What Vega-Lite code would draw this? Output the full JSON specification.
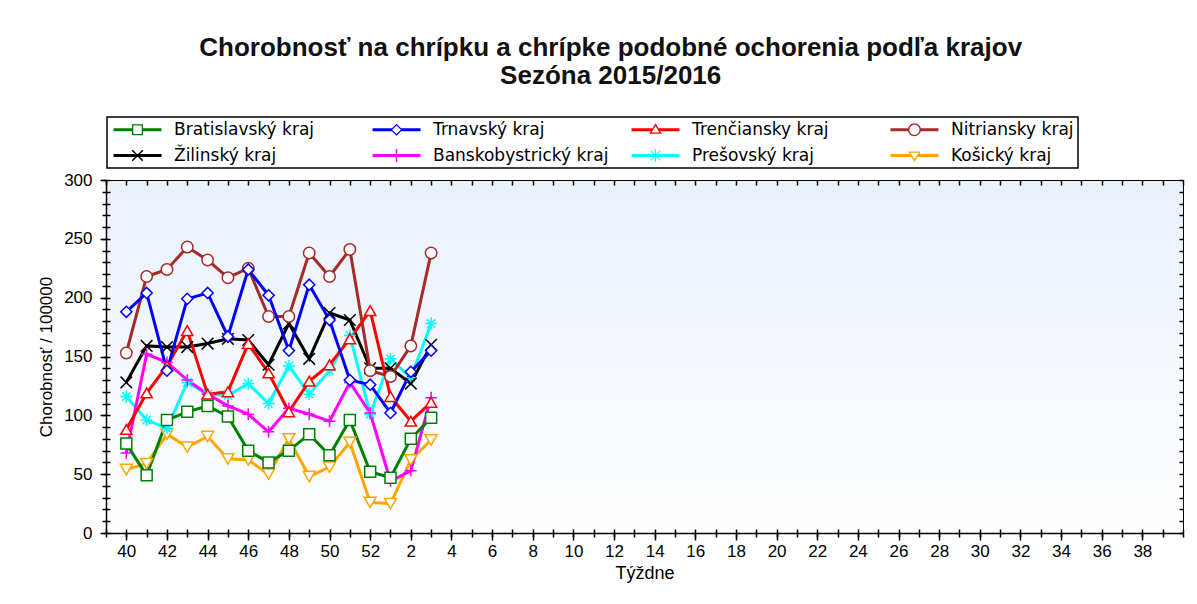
{
  "$schema": "https://vega.github.io/schema/vega-lite/v6.json",
  "width": 1077,
  "height": 353,
  "autosize": {"type": "none"},
  "padding": {"left": 106, "top": 180, "right": 14, "bottom": 71},
  "background": "white",
  "title": {
    "text": ["Chorobnosť na chrípku a chrípke podobné ochorenia podľa krajov", "Sezóna 2015/2016"],
    "font": "Liberation Sans",
    "fontSize": 26,
    "fontWeight": "bold",
    "lineHeight": 28,
    "anchor": "middle",
    "frame": "bounds",
    "offset": 27,
    "color": "#111111"
  },
  "config": {
    "view": {
      "stroke": "black",
      "strokeWidth": 1,
      "fill": {"gradient": "linear", "x1": 0, "y1": 0, "x2": 0, "y2": 1,
        "stops": [{"offset": 0, "color": "#e9f1fb"}, {"offset": 1, "color": "#ffffff"}]}
    },
    "axis": {"grid": false, "tickColor": "black", "domainColor": "black", "labelColor": "black", "titleColor": "black"},
    "legend": {
      "orient": "none",
      "legendX": 1,
      "legendY": -63,
      "direction": "horizontal",
      "columns": 4,
      "gridAlign": "all",
      "labelFont": "DejaVu Sans",
      "labelFontSize": 17,
      "labelColor": "black",
      "labelLimit": 400,
      "labelOffset": 28,
      "symbolSize": 144,
      "symbolStrokeWidth": 0,
      "symbolOpacity": 1,
      "symbolOffset": 18,
      "columnPadding": 20,
      "rowPadding": 8,
      "padding": 4,
      "strokeColor": "black",
      "strokeWidth": 1.5,
      "fillColor": "white"
    }
  },
  "data": {"values": [
    {"k": "Košický kraj", "t": 0, "v": 54}, {"k": "Košický kraj", "t": 1, "v": 59}, {"k": "Košický kraj", "t": 2, "v": 84}, {"k": "Košický kraj", "t": 3, "v": 73},
    {"k": "Košický kraj", "t": 4, "v": 82}, {"k": "Košický kraj", "t": 5, "v": 63}, {"k": "Košický kraj", "t": 6, "v": 62}, {"k": "Košický kraj", "t": 7, "v": 50},
    {"k": "Košický kraj", "t": 8, "v": 80}, {"k": "Košický kraj", "t": 9, "v": 48}, {"k": "Košický kraj", "t": 10, "v": 56}, {"k": "Košický kraj", "t": 11, "v": 77},
    {"k": "Košický kraj", "t": 12, "v": 26}, {"k": "Košický kraj", "t": 13, "v": 25}, {"k": "Košický kraj", "t": 14, "v": 62}, {"k": "Košický kraj", "t": 15, "v": 79},

    {"k": "Prešovský kraj", "t": 0, "v": 116}, {"k": "Prešovský kraj", "t": 1, "v": 96}, {"k": "Prešovský kraj", "t": 2, "v": 89}, {"k": "Prešovský kraj", "t": 3, "v": 128},
    {"k": "Prešovský kraj", "t": 4, "v": 118}, {"k": "Prešovský kraj", "t": 5, "v": 117}, {"k": "Prešovský kraj", "t": 6, "v": 127}, {"k": "Prešovský kraj", "t": 7, "v": 110},
    {"k": "Prešovský kraj", "t": 8, "v": 142}, {"k": "Prešovský kraj", "t": 9, "v": 118}, {"k": "Prešovský kraj", "t": 10, "v": 138}, {"k": "Prešovský kraj", "t": 11, "v": 168},
    {"k": "Prešovský kraj", "t": 12, "v": 101}, {"k": "Prešovský kraj", "t": 13, "v": 148}, {"k": "Prešovský kraj", "t": 14, "v": 132}, {"k": "Prešovský kraj", "t": 15, "v": 178},

    {"k": "Banskobystrický kraj", "t": 0, "v": 68}, {"k": "Banskobystrický kraj", "t": 1, "v": 152}, {"k": "Banskobystrický kraj", "t": 2, "v": 145}, {"k": "Banskobystrický kraj", "t": 3, "v": 130},
    {"k": "Banskobystrický kraj", "t": 4, "v": 118}, {"k": "Banskobystrický kraj", "t": 5, "v": 108}, {"k": "Banskobystrický kraj", "t": 6, "v": 101}, {"k": "Banskobystrický kraj", "t": 7, "v": 86},
    {"k": "Banskobystrický kraj", "t": 8, "v": 106}, {"k": "Banskobystrický kraj", "t": 9, "v": 101}, {"k": "Banskobystrický kraj", "t": 10, "v": 95}, {"k": "Banskobystrický kraj", "t": 11, "v": 128},
    {"k": "Banskobystrický kraj", "t": 12, "v": 102}, {"k": "Banskobystrický kraj", "t": 13, "v": 44}, {"k": "Banskobystrický kraj", "t": 14, "v": 53}, {"k": "Banskobystrický kraj", "t": 15, "v": 115},

    {"k": "Žilinský kraj", "t": 0, "v": 128}, {"k": "Žilinský kraj", "t": 1, "v": 159}, {"k": "Žilinský kraj", "t": 2, "v": 158}, {"k": "Žilinský kraj", "t": 3, "v": 158},
    {"k": "Žilinský kraj", "t": 4, "v": 161}, {"k": "Žilinský kraj", "t": 5, "v": 165}, {"k": "Žilinský kraj", "t": 6, "v": 164}, {"k": "Žilinský kraj", "t": 7, "v": 143},
    {"k": "Žilinský kraj", "t": 8, "v": 178}, {"k": "Žilinský kraj", "t": 9, "v": 148}, {"k": "Žilinský kraj", "t": 10, "v": 187}, {"k": "Žilinský kraj", "t": 11, "v": 181},
    {"k": "Žilinský kraj", "t": 12, "v": 140}, {"k": "Žilinský kraj", "t": 13, "v": 140}, {"k": "Žilinský kraj", "t": 14, "v": 127}, {"k": "Žilinský kraj", "t": 15, "v": 160},

    {"k": "Nitriansky kraj", "t": 0, "v": 153}, {"k": "Nitriansky kraj", "t": 1, "v": 218}, {"k": "Nitriansky kraj", "t": 2, "v": 224}, {"k": "Nitriansky kraj", "t": 3, "v": 243},
    {"k": "Nitriansky kraj", "t": 4, "v": 232}, {"k": "Nitriansky kraj", "t": 5, "v": 217}, {"k": "Nitriansky kraj", "t": 6, "v": 225}, {"k": "Nitriansky kraj", "t": 7, "v": 184},
    {"k": "Nitriansky kraj", "t": 8, "v": 184}, {"k": "Nitriansky kraj", "t": 9, "v": 238}, {"k": "Nitriansky kraj", "t": 10, "v": 218}, {"k": "Nitriansky kraj", "t": 11, "v": 241},
    {"k": "Nitriansky kraj", "t": 12, "v": 138}, {"k": "Nitriansky kraj", "t": 13, "v": 133}, {"k": "Nitriansky kraj", "t": 14, "v": 159}, {"k": "Nitriansky kraj", "t": 15, "v": 238},

    {"k": "Trenčiansky kraj", "t": 0, "v": 88}, {"k": "Trenčiansky kraj", "t": 1, "v": 119}, {"k": "Trenčiansky kraj", "t": 2, "v": 142}, {"k": "Trenčiansky kraj", "t": 3, "v": 172},
    {"k": "Trenčiansky kraj", "t": 4, "v": 118}, {"k": "Trenčiansky kraj", "t": 5, "v": 120}, {"k": "Trenčiansky kraj", "t": 6, "v": 161}, {"k": "Trenčiansky kraj", "t": 7, "v": 136},
    {"k": "Trenčiansky kraj", "t": 8, "v": 103}, {"k": "Trenčiansky kraj", "t": 9, "v": 129}, {"k": "Trenčiansky kraj", "t": 10, "v": 143}, {"k": "Trenčiansky kraj", "t": 11, "v": 165},
    {"k": "Trenčiansky kraj", "t": 12, "v": 189}, {"k": "Trenčiansky kraj", "t": 13, "v": 116}, {"k": "Trenčiansky kraj", "t": 14, "v": 95}, {"k": "Trenčiansky kraj", "t": 15, "v": 111},

    {"k": "Trnavský kraj", "t": 0, "v": 188}, {"k": "Trnavský kraj", "t": 1, "v": 204}, {"k": "Trnavský kraj", "t": 2, "v": 138}, {"k": "Trnavský kraj", "t": 3, "v": 199},
    {"k": "Trnavský kraj", "t": 4, "v": 204}, {"k": "Trnavský kraj", "t": 5, "v": 167}, {"k": "Trnavský kraj", "t": 6, "v": 224}, {"k": "Trnavský kraj", "t": 7, "v": 202},
    {"k": "Trnavský kraj", "t": 8, "v": 155}, {"k": "Trnavský kraj", "t": 9, "v": 211}, {"k": "Trnavský kraj", "t": 10, "v": 181}, {"k": "Trnavský kraj", "t": 11, "v": 130},
    {"k": "Trnavský kraj", "t": 12, "v": 126}, {"k": "Trnavský kraj", "t": 13, "v": 102}, {"k": "Trnavský kraj", "t": 14, "v": 137}, {"k": "Trnavský kraj", "t": 15, "v": 155},

    {"k": "Bratislavský kraj", "t": 0, "v": 76}, {"k": "Bratislavský kraj", "t": 1, "v": 49}, {"k": "Bratislavský kraj", "t": 2, "v": 96}, {"k": "Bratislavský kraj", "t": 3, "v": 103},
    {"k": "Bratislavský kraj", "t": 4, "v": 108}, {"k": "Bratislavský kraj", "t": 5, "v": 99}, {"k": "Bratislavský kraj", "t": 6, "v": 70}, {"k": "Bratislavský kraj", "t": 7, "v": 60},
    {"k": "Bratislavský kraj", "t": 8, "v": 70}, {"k": "Bratislavský kraj", "t": 9, "v": 84}, {"k": "Bratislavský kraj", "t": 10, "v": 66}, {"k": "Bratislavský kraj", "t": 11, "v": 96},
    {"k": "Bratislavský kraj", "t": 12, "v": 52}, {"k": "Bratislavský kraj", "t": 13, "v": 47}, {"k": "Bratislavský kraj", "t": 14, "v": 80}, {"k": "Bratislavský kraj", "t": 15, "v": 98}
  ]},
  "resolve": {
    "scale": {"shape": "independent"},
    "axis": {"x": "independent", "y": "independent"},
    "legend": {"shape": "independent", "fill": "independent"}
  },
  "layer": [
    {
      "mark": {"type": "line", "strokeWidth": 3},
      "encoding": {
        "x": {"field": "t", "type": "quantitative",
          "scale": {"domain": [-1, 52], "nice": false, "zero": false},
          "axis": {"orient": "bottom", "values": [0,2,4,6,8,10,12,14,16,18,20,22,24,26,28,30,32,34,36,38,40,42,44,46,48,50],
            "labelExpr": "datum.value <= 12 ? datum.value + 40 : datum.value - 12",
            "tickSize": 7, "tickWidth": 1.5, "domainWidth": 1.5,
            "labelFont": "Liberation Sans", "labelFontSize": 17, "labelPadding": 3, "labelFlush": false, "labelOverlap": false,
            "title": "Týždne", "titleFont": "Liberation Sans", "titleFontSize": 18, "titleFontWeight": "normal", "titlePadding": 5}},
        "y": {"field": "v", "type": "quantitative",
          "scale": {"domain": [0, 300], "nice": false, "zero": true},
          "axis": {"orient": "left", "values": [0,50,100,150,200,250,300],
            "tickSize": 6, "tickWidth": 1.5, "domainWidth": 1.5,
            "labelFont": "Liberation Sans", "labelFontSize": 17, "labelPadding": 8, "labelFlush": false,
            "title": "Chorobnosť / 100000", "titleFont": "Liberation Sans", "titleFontSize": 17, "titleFontWeight": "normal", "titlePadding": 8}},
        "stroke": {"field": "k", "type": "nominal",
          "scale": {"domain": ["Bratislavský kraj","Trnavský kraj","Trenčiansky kraj","Nitriansky kraj","Žilinský kraj","Banskobystrický kraj","Prešovský kraj","Košický kraj"],
            "range": ["#008000","#0000ff","#ff0000","#a52a2a","#000000","#ff00ff","#00ffff","#ffa500"]},
          "legend": null}
      }
    },
    {
      "mark": {"type": "point", "filled": false, "fill": "white", "strokeWidth": 1.5, "opacity": 1},
      "encoding": {
        "x": {"field": "t", "type": "quantitative",
          "axis": {"orient": "bottom", "values": [-1,0,1,2,3,4,5,6,7,8,9,10,11,12,13,14,15,16,17,18,19,20,21,22,23,24,25,26,27,28,29,30,31,32,33,34,35,36,37,38,39,40,41,42,43,44,45,46,47,48,49,50,51,52],
            "tickSize": 4, "tickWidth": 1.5, "labels": false, "domain": false, "title": null}},
        "y": {"field": "v", "type": "quantitative",
          "axis": {"orient": "left", "values": [0,10,20,30,40,50,60,70,80,90,100,110,120,130,140,150,160,170,180,190,200,210,220,230,240,250,260,270,280,290,300],
            "tickSize": 4, "tickWidth": 1.5, "labels": false, "domain": false, "title": null}},
        "stroke": {"field": "k", "type": "nominal", "legend": null},
        "shape": {"field": "k", "type": "nominal",
          "scale": {"domain": ["Bratislavský kraj","Trnavský kraj","Trenčiansky kraj","Nitriansky kraj","Žilinský kraj","Banskobystrický kraj","Prešovský kraj","Košický kraj"],
            "range": ["square","diamond","triangle-up","circle","M-1,-1L1,1M1,-1L-1,1","M-1,0H1M0,-1V1","M-1,0H1M0,-1V1M-0.7,-0.7L0.7,0.7M0.7,-0.7L-0.7,0.7","triangle-down"]},
          "legend": null},
        "size": {"field": "k", "type": "nominal",
          "scale": {"domain": ["Bratislavský kraj","Trnavský kraj","Trenčiansky kraj","Nitriansky kraj","Žilinský kraj","Banskobystrický kraj","Prešovský kraj","Košický kraj"],
            "range": [121, 144, 144, 169, 169, 196, 196, 144]},
          "legend": null}
      }
    },
    {
      "mark": {"type": "point", "filled": true, "opacity": 0},
      "encoding": {
        "x": {"field": "t", "type": "quantitative",
          "axis": {"orient": "top", "values": [-1,0,1,2,3,4,5,6,7,8,9,10,11,12,13,14,15,16,17,18,19,20,21,22,23,24,25,26,27,28,29,30,31,32,33,34,35,36,37,38,39,40,41,42,43,44,45,46,47,48,49,50,51,52],
            "tickSize": -5, "tickWidth": 1.5, "labels": false, "domain": false, "title": null}},
        "y": {"field": "v", "type": "quantitative",
          "axis": {"orient": "right", "values": [0,10,20,30,40,50,60,70,80,90,100,110,120,130,140,150,160,170,180,190,200,210,220,230,240,250,260,270,280,290,300],
            "tickSize": -4, "tickWidth": 1.5, "labels": false, "domain": false, "title": null}},
        "fill": {"field": "k", "type": "nominal",
          "scale": {"domain": ["Bratislavský kraj","Trnavský kraj","Trenčiansky kraj","Nitriansky kraj","Žilinský kraj","Banskobystrický kraj","Prešovský kraj","Košický kraj"],
            "range": ["#008000","#0000ff","#ff0000","#a52a2a","#000000","#ff00ff","#00ffff","#ffa500"]},
          "legend": {"title": null}},
        "shape": {"field": "k", "type": "nominal",
          "scale": {"domain": ["Bratislavský kraj","Trnavský kraj","Trenčiansky kraj","Nitriansky kraj","Žilinský kraj","Banskobystrický kraj","Prešovský kraj","Košický kraj"],
            "range": [
              "M-4,-0.25H-0.92V0.25H-4Z M0.92,-0.25H4V0.25H0.92Z M-0.92,-0.92H0.92V0.92H-0.92Z M-0.7,-0.7V0.7H0.7V-0.7Z",
              "M-4,-0.25H-0.76V0.25H-4Z M0.76,-0.25H4V0.25H0.76Z M0,-1L1,0L0,1L-1,0Z M0,-0.72L-0.72,0L0,0.72L0.72,0Z",
              "M-4,-0.25H-0.56V0.25H-4Z M0.56,-0.25H4V0.25H0.56Z M0,-1.08L1.04,0.68L-1.04,0.68Z M0,-0.64L-0.66,0.46L0.66,0.46Z",
              "M-4,-0.25H-1V0.25H-4Z M1,-0.25H4V0.25H1Z M1.08,0A1.08,1.08 0 1,1 -1.08,0A1.08,1.08 0 1,1 1.08,0Z M0.84,0A0.84,0.84 0 1,0 -0.84,0A0.84,0.84 0 1,0 0.84,0Z",
              "M-4,-0.25H4V0.25H-4Z M-0.792,-0.968L0.968,0.792L0.792,0.968L-0.968,-0.792Z M0.792,-0.968L0.968,-0.792L-0.792,0.968L-0.968,0.792Z",
              "M-4,-0.25H4V0.25H-4Z M-0.12,-1.08H0.12V1.08H-0.12Z",
              "M-4,-0.25H4V0.25H-4Z M-0.1,-1.04H0.1V1.04H-0.1Z M-0.744,-0.856L0.856,0.744L0.744,0.856L-0.856,-0.744Z M0.744,-0.856L0.856,-0.744L-0.744,0.856L-0.856,0.744Z",
              "M-4,-0.25H-0.56V0.25H-4Z M0.56,-0.25H4V0.25H0.56Z M-1.04,-0.68H1.04L0,1.08Z M-0.66,-0.46L0,0.64L0.66,-0.46Z"
            ]},
          "legend": {"title": null}}
      }
    },
    {
      "mark": {"type": "point", "opacity": 0},
      "encoding": {
        "x": {"field": "t", "type": "quantitative",
          "axis": {"orient": "bottom", "values": [-1,0,1,2,3,4,5,6,7,8,9,10,11,12,13,14,15,16,17,18,19,20,21,22,23,24,25,26,27,28,29,30,31,32,33,34,35,36,37,38,39,40,41,42,43,44,45,46,47,48,49,50,51,52],
            "tickSize": -4, "tickWidth": 1.5, "labels": false, "domain": false, "title": null}},
        "y": {"field": "v", "type": "quantitative",
          "axis": {"orient": "left", "values": [0,10,20,30,40,50,60,70,80,90,100,110,120,130,140,150,160,170,180,190,200,210,220,230,240,250,260,270,280,290,300],
            "tickSize": -4, "tickWidth": 1.5, "labels": false, "domain": false, "title": null}}
      }
    }
  ]
}
